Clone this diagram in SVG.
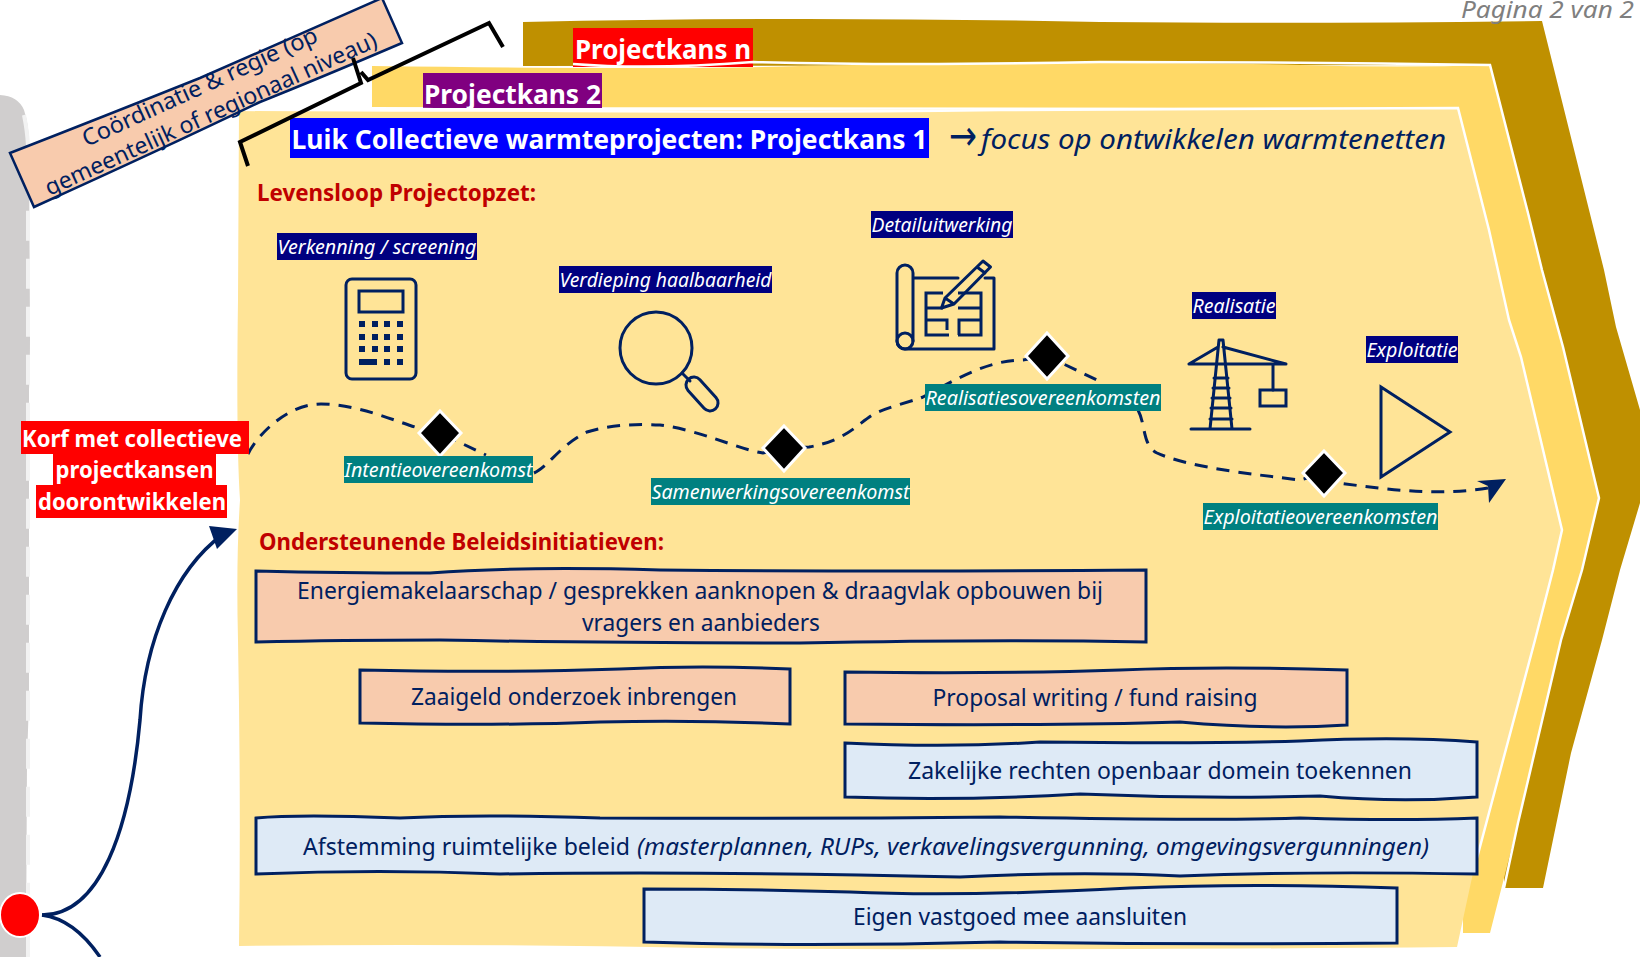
<svg xmlns="http://www.w3.org/2000/svg" width="1640" height="957" viewBox="0 0 1640 957">
<style>
text{font-family:"Noto Sans","Open Sans","Liberation Sans",sans-serif}
.ln{stroke:#002060;stroke-width:3;fill:none;stroke-linecap:round;stroke-linejoin:round}
.sq{stroke-linecap:butt;stroke-linejoin:miter}
.box{stroke:#002060;stroke-width:3;stroke-linejoin:miter}
.peach{fill:#F8CBAD}.blue{fill:#DEEAF6}
.t{fill:#002060;font-size:23px;text-anchor:middle}
.lab{fill:#fff;font-size:19.500px;font-style:italic;text-anchor:middle}
.navy{fill:#000080}.teal{fill:#008080}
.h{fill:#C00000;font-size:23px;font-weight:700}
.w{fill:#fff;font-weight:700;text-anchor:middle}
.btn{fill:#002060}
.dia{fill:#000;stroke:#fff;stroke-width:3}
.dash{stroke:#002060;stroke-width:3;fill:none;stroke-dasharray:13 9}
</style>
<rect width="1640" height="957" fill="#fff"/>
<g id="road">
<path d="M0 95Q18 96 24 110Q29 125 29 145L30 330Q30 370 29 390L29 700L27 760L26 957L0 957Z" fill="#D0CECE"/>
<path d="M24 115Q28 135 28 150L28 957" fill="none" stroke="#F2F2F2" stroke-width="4" stroke-dasharray="30 18"/>
</g>
<g id="layer-n">
<path d="M523 22Q800 16 1100 22Q1300 24 1542 21L1604 270L1616 327L1640 410L1650 450L1640 503L1620 570L1602 640L1571 753L1543 888L1504 888L1504 300L1490 65L523 66Z" fill="#BF9000"/>
<rect x="573" y="28" width="180" height="39" fill="#FF0000"/>
<text class="w" x="663" y="59" font-size="27.500" textLength="176" lengthAdjust="spacingAndGlyphs">Projectkans n</text>
</g>
<g id="layer-2">
<path d="M372 66Q700 70 800 66Q1100 60 1300 65Q1400 68 1490 65L1528 213L1542 270L1563 347L1599 498L1582 570L1561 640L1518 823L1490 933L1463 933L1463 500L1458 108L372 107Z" fill="#FFD966"/>
<path d="M573 64Q650 70 753 62Q900 66 1100 62Q1300 62 1490 65L1528 213L1542 270L1563 347L1599 498L1582 570L1561 640L1518 823L1504 888" fill="none" stroke="#fff" stroke-width="2.500"/>
<rect x="423" y="73" width="179" height="35" fill="#800080"/>
<text class="w" x="512.500" y="104" font-size="27.500" textLength="177" lengthAdjust="spacingAndGlyphs">Projectkans 2</text>
</g>
<g id="layer-1">
<path d="M239 111Q500 113 700 110Q1000 110 1458 108L1489 230L1509 320L1521 357L1562 530L1553 570L1535 640L1473 873L1457 947Q1000 951 700 948Q450 943 239 946Q241 800 238 640Q236 560 240 500Q236 440 238 300Z" fill="#FFE497"/>
<path d="M420 109Q700 114 1000 110Q1250 108 1458 108L1489 230L1509 320L1521 357L1562 530L1553 570L1535 640L1473 873" fill="none" stroke="#fff" stroke-width="2.500"/>
</g>
<g id="heading">
<rect x="290" y="118" width="639" height="40" fill="#0000FF"/>
<text class="w" x="609.500" y="149" font-size="27.500" textLength="636" lengthAdjust="spacingAndGlyphs">Luik Collectieve warmteprojecten: Projectkans 1</text>
<text fill="#002060" font-size="27.500" font-style="italic"><tspan x="949" y="150" font-size="42" font-family="DejaVu Sans" font-style="normal" textLength="28" lengthAdjust="spacingAndGlyphs">→</tspan><tspan x="981" y="149" textLength="465" lengthAdjust="spacingAndGlyphs">focus op ontwikkelen warmtenetten</tspan></text>
</g>
<text class="h" x="257" y="201" textLength="279" lengthAdjust="spacingAndGlyphs">Levensloop Projectopzet:</text>
<text class="h" x="259" y="550" textLength="405" lengthAdjust="spacingAndGlyphs">Ondersteunende Beleidsinitiatieven:</text>
<g id="coordinatie">
<path d="M10 153Q100 118 200 78Q290 38 382 -2L402 43Q320 78 260 102Q160 150 34 207Z" fill="#F8CBAD" stroke="#002060" stroke-width="2.500"/>
<text class="t" transform="translate(203 94) rotate(-24.500)" textLength="256" lengthAdjust="spacingAndGlyphs">Coördinatie &amp; regie (op</text>
<text class="t" transform="translate(214 121) rotate(-24.500)" textLength="362" lengthAdjust="spacingAndGlyphs">gemeentelijk of regionaal niveau)</text>
</g>
<path id="bracket" d="M248 166L240 142L361 83L353 58M361 72L368 80L489 23L503 47" fill="none" stroke="#000" stroke-width="4"/>
<g id="connectors">
<path class="dash" d="M248 454C256 437 286 404 321 404C357 404 395 421 418 428L440 433L486 455"/>
<path class="dash" d="M534 473C548 467 560 445 587 432C612 424 640 424 660 425C700 430 740 450 763 453L784 448L809 447C850 440 860 420 878 412C895 405 910 402 923 397C950 383 985 360 1023 360L1047 356L1103 383"/>
<path class="dash" d="M1138 410C1146 425 1142 445 1157 453C1190 468 1260 475 1300 480L1324 473L1339 483C1390 490 1440 496 1488 488"/>
<path d="M1506 479L1477 481L1488 486L1489 503Z" fill="#002060"/>
<path d="M42 915C100 915 130 830 140 720C145 640 175 570 222 535" fill="none" stroke="#002060" stroke-width="3.500"/>
<path d="M209 526L237 529L217 549Z" fill="#002060"/>
<path d="M42 915C65 918 85 935 100 957" fill="none" stroke="#002060" stroke-width="3.500"/>
</g>
<ellipse id="start" cx="20" cy="915" rx="20" ry="22" fill="#FF0000" stroke="#fff" stroke-width="2"/>
<g id="korf">
<rect x="21" y="421" width="228" height="33" fill="#FF0000"/>
<rect x="53" y="454" width="163" height="31" fill="#FF0000"/>
<rect x="36" y="485" width="191" height="33" fill="#FF0000"/>
<text class="w" x="132" y="447" font-size="24" textLength="220" lengthAdjust="spacingAndGlyphs">Korf met collectieve</text>
<text class="w" x="134.500" y="478" font-size="24" textLength="158" lengthAdjust="spacingAndGlyphs">projectkansen</text>
<text class="w" x="132" y="510" font-size="24" textLength="188" lengthAdjust="spacingAndGlyphs">doorontwikkelen</text>
</g>
<g id="d1"><path class="dia" d="M440 411L461 433L440 456L419 433Z"/><rect class="teal" x="344" y="456" width="189" height="27"/><text class="lab" x="438.500" y="477" textLength="188" lengthAdjust="spacingAndGlyphs">Intentieovereenkomst</text></g>
<g id="d2"><path class="dia" d="M784 426L805 448L784 471L763 448Z"/><rect class="teal" x="651" y="478" width="259" height="27"/><text class="lab" x="780.500" y="499" textLength="258" lengthAdjust="spacingAndGlyphs">Samenwerkingsovereenkomst</text></g>
<g id="d3"><path class="dia" d="M1047 333L1068 356L1047 379L1026 356Z"/><rect class="teal" x="925" y="384" width="236" height="27"/><text class="lab" x="1043" y="405" textLength="235" lengthAdjust="spacingAndGlyphs">Realisatiesovereenkomsten</text></g>
<g id="d4"><path class="dia" d="M1324 451L1345 473L1324 496L1303 473Z"/><rect class="teal" x="1203" y="503" width="235" height="27"/><text class="lab" x="1320.500" y="524" textLength="234" lengthAdjust="spacingAndGlyphs">Exploitatieovereenkomsten</text></g>
<g id="verkenning"><rect class="navy" x="277" y="233" width="200" height="27"/><text class="lab" x="377" y="254" textLength="199" lengthAdjust="spacingAndGlyphs">Verkenning / screening</text>
<rect class="ln" x="346" y="279" width="70" height="100" rx="6"/><rect class="ln sq" x="359" y="291" width="44" height="21"/>
<g class="btn"><rect x="359" y="321" width="6" height="6"/><rect x="372" y="321" width="6" height="6"/><rect x="384" y="321" width="6" height="6"/><rect x="397" y="321" width="6" height="6"/><rect x="359" y="334" width="6" height="6"/><rect x="372" y="334" width="6" height="6"/><rect x="384" y="334" width="6" height="6"/><rect x="397" y="334" width="6" height="6"/><rect x="359" y="346" width="6" height="6"/><rect x="372" y="346" width="6" height="6"/><rect x="384" y="346" width="6" height="6"/><rect x="397" y="346" width="6" height="6"/><rect x="359" y="359" width="18" height="6"/><rect x="384" y="359" width="6" height="6"/><rect x="397" y="359" width="6" height="6"/></g></g>
<g id="verdieping"><rect class="navy" x="559" y="266" width="213" height="27"/><text class="lab" x="665.500" y="287" textLength="212" lengthAdjust="spacingAndGlyphs">Verdieping haalbaarheid</text>
<circle class="ln" cx="656" cy="348" r="36"/><path class="ln" d="M682 373L690 381"/><rect class="ln" x="682" y="386" width="40" height="16" rx="8" transform="rotate(48 702 394)"/></g>
<g id="detail"><rect class="navy" x="871" y="211" width="142" height="27"/><text class="lab" x="942" y="232" textLength="141" lengthAdjust="spacingAndGlyphs">Detailuitwerking</text>
<path class="ln" d="M913 341V273A8 8 0 0 0 897 273V341A8 8 0 0 0 905 349H994V278H985M958 278H913"/><circle class="ln" cx="905" cy="341" r="8"/>
<path class="ln" d="M941.500 308L945 298L983 261L990.500 267L954 304ZM977 267L985 273M945 298L954 304" stroke-width="2.500"/>
<path class="ln sq" d="M943 293H926V335H949M958 335H981V293H958M926 308H943M958 308H981M926 320H947V330M959 335V320H981"/></g>
<g id="realisatie"><rect class="navy" x="1192" y="292" width="84" height="27"/><text class="lab" x="1234" y="313" textLength="83" lengthAdjust="spacingAndGlyphs">Realisatie</text>
<path class="ln" d="M1189 364H1286L1223 347M1189 364L1218 347M1219 340L1210 429M1223 340L1232 429M1219 340H1223M1191 429H1250M1214 378H1228M1213 388H1229M1212 398H1230M1211 408H1231M1210 419H1232M1273 364V390"/><rect class="ln sq" x="1260" y="390" width="26" height="16"/></g>
<g id="exploitatie"><rect class="navy" x="1366" y="336" width="92" height="27"/><text class="lab" x="1412" y="357" textLength="91" lengthAdjust="spacingAndGlyphs">Exploitatie</text>
<path class="ln sq" d="M1381 387L1450 432L1381 477Z"/></g>
<g id="b1"><path class="box peach" d="M256 571Q340 573 430 573Q520 566 660 570Q900 572 1146 570L1146 642Q1000 639 800 643Q600 643 440 640Q340 640 256 642Z"/><text class="t"><tspan x="700" y="599" textLength="806" lengthAdjust="spacingAndGlyphs">Energiemakelaarschap / gesprekken aanknopen &amp; draagvlak opbouwen bij</tspan><tspan x="701" y="631" textLength="238" lengthAdjust="spacingAndGlyphs">vragers en aanbieders</tspan></text></g>
<g id="b2"><path class="box peach" d="M360 670Q500 673 620 669Q700 665 790 669L790 724Q700 720 600 722Q500 726 360 723Z"/><text class="t" x="574" y="705" textLength="326" lengthAdjust="spacingAndGlyphs">Zaaigeld onderzoek inbrengen</text></g>
<g id="b3"><path class="box peach" d="M845 672Q1000 674 1120 670Q1220 666 1347 670L1347 725Q1270 730 1180 722Q1050 726 845 724Z"/><text class="t" x="1095" y="706" textLength="325" lengthAdjust="spacingAndGlyphs">Proposal writing / fund raising</text></g>
<g id="b4"><path class="box blue" d="M845 743Q950 748 1040 742Q1200 744 1300 741Q1400 736 1477 742L1477 797Q1400 803 1320 796Q1200 799 1080 794Q960 801 845 797Z"/><text class="t" x="1160" y="779" textLength="504" lengthAdjust="spacingAndGlyphs">Zakelijke rechten openbaar domein toekennen</text></g>
<g id="b5"><path class="box blue" d="M256 818Q300 814 400 818Q480 814 600 818Q800 819 1000 817Q1200 821 1300 818Q1400 821 1477 818L1477 874Q1300 871 1180 876Q1080 871 960 877Q700 871 500 874Q380 869 256 874Z"/><text class="t" y="855" style="text-anchor:start"><tspan x="303" textLength="333" lengthAdjust="spacingAndGlyphs">Afstemming ruimtelijke beleid </tspan><tspan x="637" font-style="italic" textLength="792" lengthAdjust="spacingAndGlyphs">(masterplannen, RUPs, verkavelingsvergunning, omgevingsvergunningen)</tspan></text></g>
<g id="b6"><path class="box blue" d="M644 889Q750 889 850 892Q960 897 1130 888Q1250 883 1397 888L1397 943Q1200 945 1000 942Q800 947 644 942Z"/><text class="t" x="1020" y="925" textLength="334" lengthAdjust="spacingAndGlyphs">Eigen vastgoed mee aansluiten</text></g>
<text x="1634" y="18" fill="#7F7F7F" font-size="23" font-style="italic" style="text-anchor:end" textLength="173" lengthAdjust="spacingAndGlyphs">Pagina 2 van 2</text>
</svg>
